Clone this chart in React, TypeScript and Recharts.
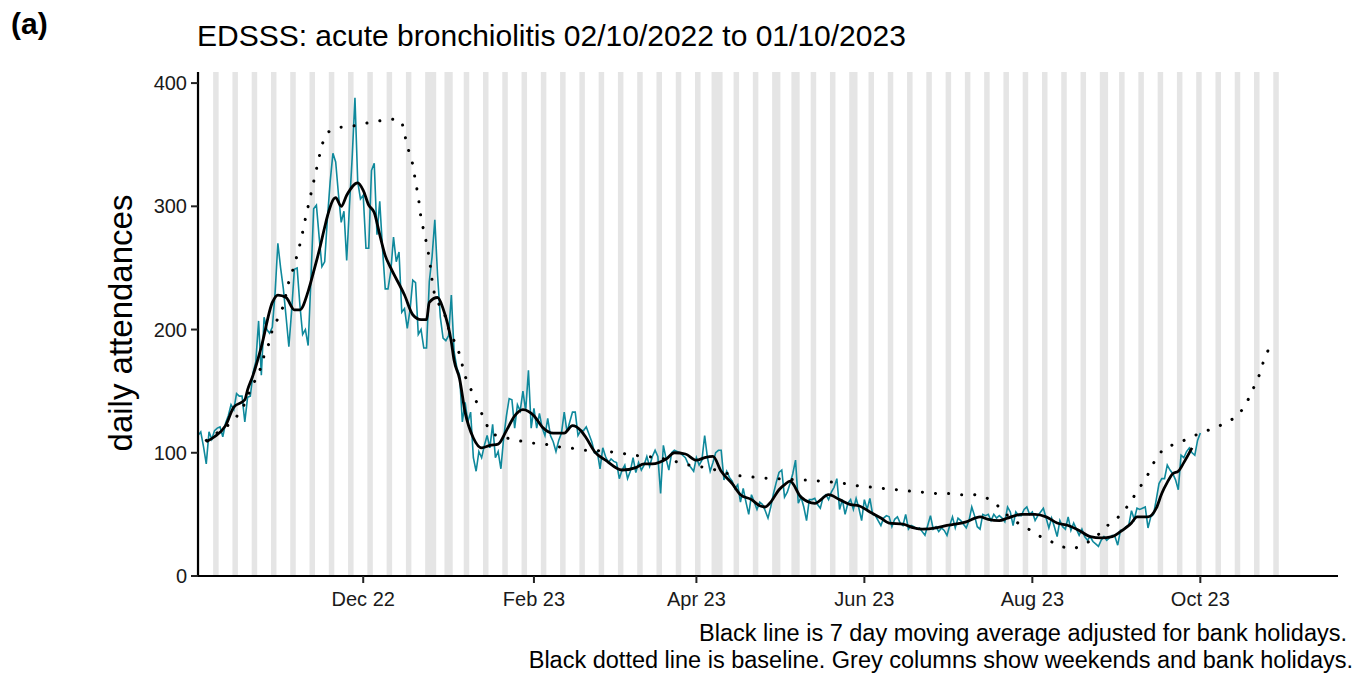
import { ComposedChart, Line, XAxis, YAxis, ReferenceArea } from 'recharts'

// day 0 = Sunday 2 October 2022
const START = Date.UTC(2022, 9, 2)

// daily attendances, 02/10/2022 .. 01/10/2023
const dailyCounts = [
  114, 117, 105, 91, 117, 111, 118, 120, 121, 113,
  124, 130, 139, 135, 148, 146, 146, 125, 145, 146,
  165, 174, 207, 163, 210, 200, 197, 202, 230, 270,
  250, 233, 210, 186, 215, 249, 250, 220, 196, 200,
  187, 240, 298, 301, 275, 251, 255, 290, 320, 343,
  336, 310, 287, 296, 256, 300, 340, 388, 320, 306,
  309, 266, 266, 329, 335, 277, 304, 266, 233, 233,
  247, 275, 255, 263, 214, 217, 201, 216, 240, 238,
  196, 200, 185, 185, 239, 259, 289, 244, 210, 193,
  191, 195, 228, 182, 169, 163, 125, 141, 125, 133,
  96, 85, 101, 96, 106, 114, 104, 123, 96, 101,
  87, 112, 130, 144, 143, 120, 139, 134, 150, 134,
  167, 120, 136, 120, 132, 120, 114, 128, 114, 109,
  101, 110, 116, 133, 117, 125, 133, 133, 114, 118,
  118, 121, 115, 109, 100, 101, 87, 104, 97, 92,
  95, 93, 92, 79, 86, 90, 79, 85, 96, 84,
  92, 86, 90, 97, 89, 97, 102, 97, 67, 106,
  95, 86, 100, 102, 101, 100, 98, 96, 91, 88,
  85, 96, 90, 94, 114, 96, 85, 92, 100, 102,
  102, 78, 85, 80, 77, 71, 74, 60, 71, 60,
  50, 66, 60, 54, 60, 58, 53, 47, 56, 67,
  76, 84, 86, 64, 68, 75, 83, 94, 59, 64,
  56, 45, 62, 62, 63, 58, 55, 64, 66, 62,
  68, 72, 79, 54, 62, 50, 59, 62, 54, 63,
  55, 45, 62, 54, 63, 50, 49, 45, 41, 47,
  49, 48, 40, 46, 48, 43, 41, 50, 38, 41,
  40, 38, 39, 36, 33, 41, 49, 38, 40, 36,
  39, 37, 33, 41, 48, 39, 47, 45, 42, 39,
  45, 56, 49, 40, 38, 50, 49, 50, 45, 50,
  47, 49, 47, 44, 56, 52, 41, 52, 49, 49,
  54, 56, 50, 52, 45, 49, 52, 55, 47, 39,
  47, 40, 32, 45, 40, 38, 48, 37, 43, 38,
  33, 38, 32, 29, 32, 28, 26, 24, 29, 32,
  29, 31, 33, 32, 25, 37, 37, 40, 41, 53,
  46, 55, 54, 55, 56, 39, 48, 50, 62, 75,
  79, 79, 90, 86, 83, 78, 70, 98, 96, 101,
  104, 100, 98, 110, 116,
]

// 7 day moving average [day, value]
const movingAvg: [number, number][] = [
  [3, 109], [6, 113], [10, 122], [13, 137], [17, 143], [18, 151], [20, 163], [23, 186],
  [27, 222], [29, 228], [32, 226], [35, 216], [37, 216], [40, 231], [42, 247], [44, 264],
  [46, 283], [47, 292], [50, 307], [52, 300], [54, 309], [58, 319], [60, 313], [62, 301],
  [64, 295], [66, 277], [68, 260], [70, 250], [75, 228], [78, 212], [81, 208], [83, 208],
  [84, 222], [87, 226], [89, 217], [92, 190], [93, 175], [95, 160], [97, 133], [100, 112],
  [103, 104], [106, 106], [109, 107], [112, 118], [115, 130], [118, 135], [122, 130], [125, 121],
  [129, 116], [133, 116], [136, 122], [139, 118], [141, 112], [144, 101], [148, 94], [154, 86],
  [159, 88], [162, 91], [165, 91], [170, 95], [173, 100], [177, 99], [181, 94], [184, 96],
  [187, 97], [190, 85], [194, 75], [197, 66], [201, 62], [204, 57], [206, 56], [208, 60],
  [211, 70], [213, 74], [215, 77], [219, 64], [224, 59], [229, 66], [233, 62], [237, 58],
  [240, 57], [244, 52], [248, 47], [251, 43], [256, 42], [260, 39], [263, 38], [268, 39],
  [272, 41], [275, 42], [279, 44], [284, 48], [287, 46], [291, 45], [294, 47], [299, 50],
  [304, 50], [308, 48], [312, 43], [316, 41], [320, 37], [324, 32], [328, 31], [332, 32],
  [335, 36], [339, 43], [341, 48], [345, 48], [348, 55], [350, 67], [352, 76], [354, 83],
  [356, 85], [358, 92], [361, 104],
]

// baseline [day, value]
const baseline: [number, number][] = [
  [3, 110], [12, 124], [15, 132], [17, 140], [19, 151], [21, 160], [23, 170], [24, 179],
  [26, 190], [27, 200], [29, 209], [31, 219], [33, 239], [35, 252], [37, 269], [38, 279],
  [39, 290], [40, 300], [41, 310], [42, 320], [43, 330], [44, 340], [45, 350], [47, 360],
  [51, 364], [56, 365], [60, 367], [65, 369], [70, 371], [74, 369], [75, 359], [76, 349],
  [78, 334], [79, 320], [80, 308], [81, 290], [82, 280], [83, 270], [84, 258], [85, 240],
  [86, 227], [90, 210], [91, 201], [93, 191], [95, 180], [97, 162], [99, 152], [101, 142],
  [103, 132], [105, 122], [107, 115], [112, 112], [116, 110], [121, 108], [126, 107], [130, 105],
  [135, 104], [140, 102], [144, 102], [149, 101], [153, 100], [158, 98], [163, 97], [167, 96],
  [172, 94], [176, 91], [181, 89], [185, 88], [194, 82], [198, 81], [203, 80], [208, 79],
  [212, 79], [217, 78], [222, 78], [226, 77], [231, 76], [235, 75], [240, 73], [245, 72],
  [249, 71], [254, 70], [258, 69], [263, 68], [268, 67], [272, 67], [277, 66], [282, 66],
  [286, 64], [290, 58], [293, 51], [297, 44], [301, 39], [305, 33], [309, 29], [313, 24],
  [318, 22], [322, 26], [326, 31], [329, 39], [333, 45], [336, 52], [339, 61], [341, 69],
  [344, 78], [346, 87], [348, 96], [351, 104], [356, 108], [360, 112], [364, 116], [369, 120],
  [373, 124], [377, 129], [380, 137], [382, 146], [384, 156], [386, 166], [387, 175], [389, 185],
]

const bankHolidays = ['2022-12-26', '2022-12-27', '2023-01-02', '2023-04-07', '2023-04-10', '2023-05-01', '2023-05-08', '2023-05-29', '2023-08-28']

const xTicks = [60, 122, 181, 242, 303, 364]
const xTickLabels = ['Dec 22', 'Feb 23', 'Apr 23', 'Jun 23', 'Aug 23', 'Oct 23']
const yTicks = [0, 100, 200, 300, 400]

const LAST_DAY = 389
const LAST_GREY = 392

const toDay = (s: string) => Math.round((Date.parse(s + 'T00:00:00Z') - START) / 86400000)

const maMap = new Map(movingAvg)
const baseMap = new Map(baseline)
const rows = Array.from({ length: LAST_DAY + 1 }, (_, d) => ({
  day: d,
  daily: d < dailyCounts.length ? dailyCounts[d] : null,
  ma: maMap.has(d) ? maMap.get(d) : null,
  base: baseMap.has(d) ? baseMap.get(d) : null,
}))

// grey columns: weekends + bank holidays, merged into runs
const holidaySet = new Set(bankHolidays.map(toDay))
const greyRuns: [number, number][] = []
for (let d = 0; d <= LAST_GREY; d++) {
  const grey = d % 7 === 6 || d % 7 === 0 || holidaySet.has(d)
  if (!grey) continue
  const last = greyRuns[greyRuns.length - 1]
  if (last && last[1] === d - 1) last[1] = d
  else greyRuns.push([d, d])
}

const FONT = '"Liberation Sans", Arial, sans-serif'

export default function App() {
  return (
    <div style={{ position: 'absolute', left: 0, top: 0, width: 1362, height: 674, background: '#fff', fontFamily: FONT }}>
      <ComposedChart width={1362} height={674} data={rows} margin={{ top: 72, right: 24, bottom: 68, left: 0 }}>
        {greyRuns.map(([a, b]) => (
          <ReferenceArea key={a} x1={Math.max(a - 0.5, 0)} x2={b + 0.5} fill="#e5e5e5" fillOpacity={1} stroke="none" ifOverflow="hidden" />
        ))}
        <XAxis
          dataKey="day"
          type="number"
          domain={[0, 414]}
          ticks={xTicks}
          tickFormatter={(v: number) => xTickLabels[xTicks.indexOf(v)]}
          height={30}
          tickSize={7}
          tickMargin={9}
          axisLine={{ stroke: '#000', strokeWidth: 2.2 }}
          tickLine={{ stroke: '#222', strokeWidth: 2 }}
          tick={{ fontSize: 20, fill: '#1a1a1a', fontFamily: FONT }}
          allowDataOverflow
        />
        <YAxis
          type="number"
          domain={[0, 409]}
          ticks={yTicks}
          width={198}
          tickSize={7}
          tickMargin={4}
          axisLine={{ stroke: '#000', strokeWidth: 2.2 }}
          tickLine={{ stroke: '#222', strokeWidth: 2 }}
          tick={{ fontSize: 20, fill: '#1a1a1a', fontFamily: FONT }}
          allowDataOverflow
        />
        <Line dataKey="daily" type="linear" stroke="#0f899c" strokeWidth={1.6} dot={false} isAnimationActive={false} />
        <Line dataKey="base" type="linear" stroke="#000" strokeWidth={3} strokeDasharray="0.1 13" strokeLinecap="round" dot={false} connectNulls isAnimationActive={false} />
        <Line dataKey="ma" type="monotone" stroke="#000" strokeWidth={2.8} dot={false} connectNulls isAnimationActive={false} />
      </ComposedChart>
      <svg width={1362} height={674} style={{ position: 'absolute', left: 0, top: 0, pointerEvents: 'none' }} fontFamily={FONT}>
        <text x={11} y={34} fontSize={30} fontWeight="bold" fill="#000">(a)</text>
        <text x={197} y={46} fontSize={30} fill="#000">EDSSS: acute bronchiolitis 02/10/2022 to 01/10/2023</text>
        <text x={132} y={323} fontSize={33} fill="#000" textAnchor="middle" transform="rotate(-90 132 323)">daily attendances</text>
        <text x={1347} y={641} fontSize={23.5} fill="#000" textAnchor="end">Black line is 7 day moving average adjusted for bank holidays.</text>
        <text x={1353} y={668} fontSize={23.5} fill="#000" textAnchor="end">Black dotted line is baseline. Grey columns show weekends and bank holidays.</text>
      </svg>
    </div>
  )
}
